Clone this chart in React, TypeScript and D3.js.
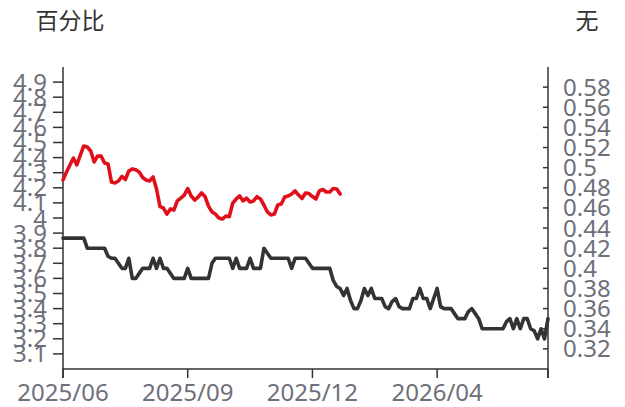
import React from "react";
import * as d3 from "d3";

// ---- data ----
const xTickLabels: string[] = ["2025/06", "2025/09", "2025/12", "2026/04"];
const labelInterval = 36; // categories between labelled ticks
const categoryCount = 141;

const leftAxisTicks: number[] = [3.1, 3.2, 3.3, 3.4, 3.5, 3.6, 3.7, 3.8, 3.9, 4.0, 4.1, 4.2, 4.3, 4.4, 4.5, 4.6, 4.7, 4.8, 4.9];
const rightAxisTicks: number[] = [0.32, 0.34, 0.36, 0.38, 0.4, 0.42, 0.44, 0.46, 0.48, 0.5, 0.52, 0.54, 0.56, 0.58];

// red series (left axis, 百分比)
const redSeries: number[] = [
  4.252, 4.305, 4.351, 4.397, 4.351, 4.417, 4.477, 4.47, 4.444, 4.371,
  4.411, 4.41, 4.364, 4.358, 4.238, 4.232, 4.245, 4.275, 4.255, 4.311,
  4.325, 4.32, 4.305, 4.268, 4.252, 4.245, 4.272, 4.192, 4.075, 4.066,
  4.026, 4.06, 4.053, 4.113, 4.132, 4.152, 4.195, 4.146, 4.119, 4.139,
  4.166, 4.142, 4.079, 4.04, 4.026, 4.0, 3.993, 4.013, 4.009, 4.099,
  4.126, 4.146, 4.113, 4.132, 4.106, 4.113, 4.141, 4.126, 4.086, 4.04,
  4.02, 4.026, 4.086, 4.093, 4.139, 4.146, 4.159, 4.179, 4.152, 4.129,
  4.166, 4.162, 4.142, 4.126, 4.179, 4.189, 4.172, 4.172, 4.195, 4.192,
  4.159,
];

// black series (right axis, 无)
const blackSeries: number[] = [
  0.43, 0.43, 0.43, 0.43, 0.43, 0.43, 0.43, 0.42, 0.42, 0.42,
  0.42, 0.42, 0.42, 0.412, 0.41, 0.41, 0.405, 0.40, 0.40, 0.41,
  0.39, 0.39, 0.395, 0.40, 0.40, 0.40, 0.41, 0.40, 0.41, 0.40,
  0.40, 0.395, 0.39, 0.39, 0.39, 0.39, 0.40, 0.39, 0.39, 0.39,
  0.39, 0.39, 0.39, 0.405, 0.41, 0.41, 0.41, 0.41, 0.41, 0.40,
  0.41, 0.40, 0.40, 0.40, 0.41, 0.40, 0.40, 0.40, 0.42, 0.415,
  0.41, 0.41, 0.41, 0.41, 0.41, 0.41, 0.40, 0.41, 0.41, 0.41,
  0.41, 0.405, 0.40, 0.40, 0.40, 0.40, 0.40, 0.40, 0.388, 0.382,
  0.38, 0.373, 0.38, 0.368, 0.36, 0.36, 0.368, 0.38, 0.373, 0.38,
  0.37, 0.37, 0.37, 0.362, 0.36, 0.367, 0.37, 0.362, 0.36, 0.36,
  0.36, 0.37, 0.37, 0.38, 0.37, 0.37, 0.36, 0.37, 0.38, 0.362,
  0.36, 0.36, 0.36, 0.355, 0.35, 0.35, 0.35, 0.357, 0.36, 0.355,
  0.35, 0.34, 0.34, 0.34, 0.34, 0.34, 0.34, 0.34, 0.347, 0.35,
  0.34, 0.35, 0.34, 0.35, 0.35, 0.34, 0.338, 0.33, 0.34, 0.33,
  0.35,
];

const W = 625;
const H = 407;
const M = { left: 63, right: 548, top: 67, bottom: 369 };

const numFont = "'Noto Sans', 'DejaVu Sans', sans-serif";
const cjkFont = "'Noto Sans CJK SC', 'Noto Sans', sans-serif";
const labelColor = "#6e7079";
const axisColor = "#333";

export default function App() {
  const x = d3.scaleLinear().domain([0, categoryCount - 1]).range([M.left, M.right]);
  const yL = d3.scaleLinear().domain([3, 5]).range([M.bottom, M.top]);
  const yR = d3.scaleLinear().domain([0.3, 0.6]).range([M.bottom, M.top]);

  const redPath = d3
    .line<number>()
    .x((_, i) => x(i))
    .y((d) => yL(d))(redSeries) as string;
  const blackPath = d3
    .line<number>()
    .x((_, i) => x(i))
    .y((d) => yR(d))(blackSeries) as string;

  const xTickIdx = [...xTickLabels.map((_, j) => j * labelInterval), categoryCount - 1];
  const fmtL = d3.format("");
  const fmtR = d3.format("");

  return (
    <svg
      width={W}
      height={H}
      style={{ position: "absolute", left: 0, top: 0, background: "#fff" }}
    >
      {/* axis titles */}
      <text x={70} y={29} fontFamily={cjkFont} fontSize={23} fill="#333" textAnchor="middle">
        百分比
      </text>
      <text x={587} y={29} fontFamily={cjkFont} fontSize={23} fill="#333" textAnchor="middle">
        无
      </text>

      {/* left axis */}
      <line x1={M.left} x2={M.left} y1={M.top} y2={M.bottom + 9} stroke={axisColor} strokeWidth={1.5} />
      {leftAxisTicks.map((t) => (
        <g key={"l" + t}>
          <line x1={M.left - 10} x2={M.left} y1={yL(t)} y2={yL(t)} stroke={axisColor} strokeWidth={1.5} />
          <text
            x={47}
            y={yL(t) + 8.5}
            textAnchor="end"
            fontFamily={numFont}
            fontSize={24}
            fill={labelColor}
          >
            {fmtL(Math.round(t * 10) / 10)}
          </text>
        </g>
      ))}

      {/* right axis */}
      <line x1={M.right} x2={M.right} y1={M.top} y2={M.bottom + 9} stroke={axisColor} strokeWidth={1.5} />
      {rightAxisTicks.map((t) => (
        <g key={"r" + t}>
          <line x1={M.right - 5} x2={M.right} y1={yR(t)} y2={yR(t)} stroke={axisColor} strokeWidth={1.5} />
          <text
            x={563}
            y={yR(t) + 8.5}
            textAnchor="start"
            fontFamily={numFont}
            fontSize={24}
            fill={labelColor}
          >
            {fmtR(Math.round(t * 100) / 100)}
          </text>
        </g>
      ))}

      {/* x axis */}
      <line x1={M.left} x2={M.right} y1={M.bottom} y2={M.bottom} stroke={axisColor} strokeWidth={1.5} />
      {xTickIdx.map((i) => (
        <line key={"xt" + i} x1={x(i)} x2={x(i)} y1={M.bottom} y2={M.bottom + 9} stroke={axisColor} strokeWidth={1.5} />
      ))}
      {xTickLabels.map((lab, j) => (
        <text
          key={lab}
          x={x(j * labelInterval)}
          y={401}
          textAnchor="middle"
          fontFamily={numFont}
          fontSize={24}
          fill={labelColor}
        >
          {lab}
        </text>
      ))}

      {/* series */}
      <path d={blackPath} fill="none" stroke="#333" strokeWidth={3.6} strokeLinejoin="round" strokeLinecap="round" />
      <path d={redPath} fill="none" stroke="#e0101b" strokeWidth={3.6} strokeLinejoin="round" strokeLinecap="round" />
    </svg>
  );
}
